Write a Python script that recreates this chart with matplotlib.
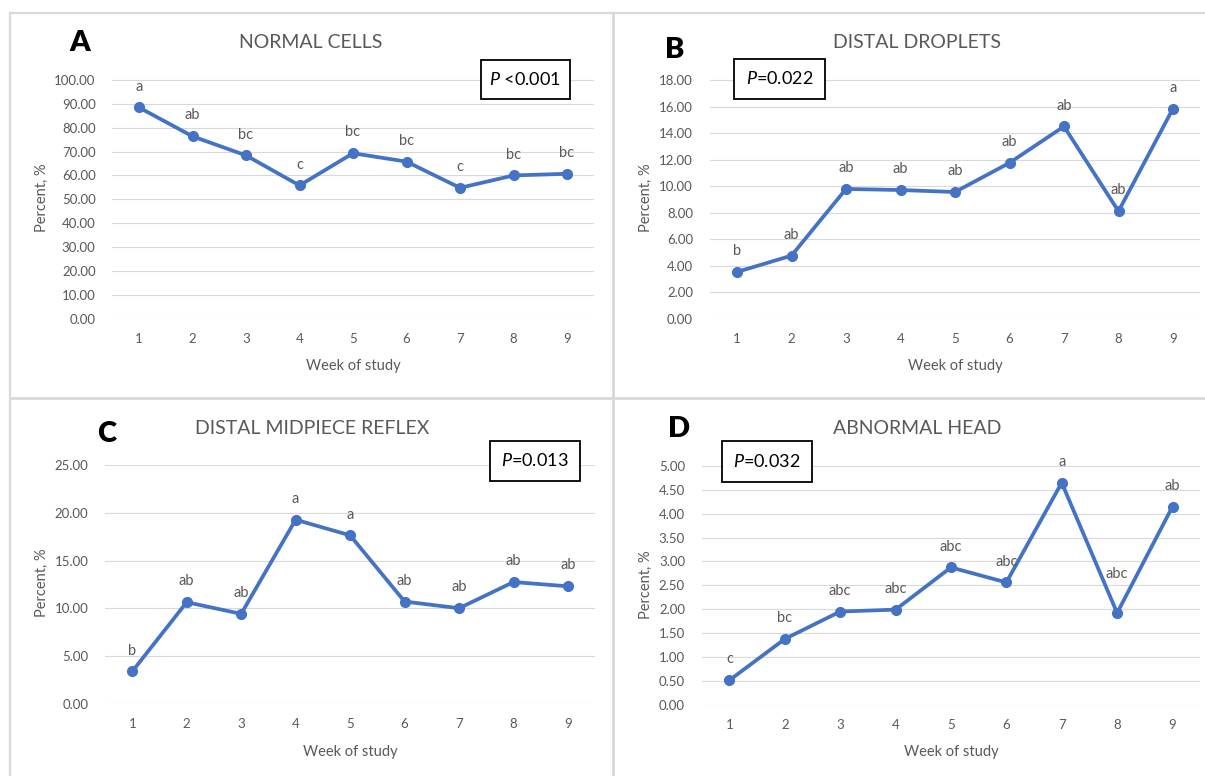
import matplotlib
matplotlib.use("Agg")
import matplotlib.pyplot as plt
from matplotlib.lines import Line2D
from matplotlib.patches import Rectangle

plt.rcParams['font.family'] = ['Lato', 'DejaVu Sans']
plt.rcParams['mathtext.fontset'] = 'custom'
plt.rcParams['mathtext.rm'] = 'Lato'
plt.rcParams['mathtext.it'] = 'Lato:italic'

# data
weeks = [1, 2, 3, 4, 5, 6, 7, 8, 9]
normal_cells = [88.5, 76.4, 68.4, 55.8, 69.3, 65.8, 54.8, 60.0, 60.7]
distal_droplets = [3.52, 4.75, 9.78, 9.70, 9.55, 11.75, 14.5, 8.10, 15.85]
distal_midpiece = [3.37, 10.64, 9.42, 19.30, 17.66, 10.71, 10.01, 12.76, 12.31]
abnormal_head = [0.51, 1.375, 1.95, 1.99, 2.875, 2.56, 4.65, 1.92, 4.15]

letters_a = ['a', 'ab', 'bc', 'c', 'bc', 'bc', 'c', 'bc', 'bc']
letters_b = ['b', 'ab', 'ab', 'ab', 'ab', 'ab', 'ab', 'ab', 'a']
letters_c = ['b', 'ab', 'ab', 'a', 'a', 'ab', 'ab', 'ab', 'ab']
letters_d = ['c', 'bc', 'abc', 'abc', 'abc', 'abc', 'a', 'abc', 'ab']

titles = ['NORMAL CELLS', 'DISTAL DROPLETS', 'DISTAL MIDPIECE REFLEX', 'ABNORMAL HEAD']
panel_ids = ['A', 'B', 'C', 'D']
p_texts = [r'$\it{P}$ <0.001', r'$\it{P}$=0.022', r'$\it{P}$=0.013', r'$\it{P}$=0.032']

W, H = 1205, 776
fig = plt.figure(figsize=(W / 100, H / 100), dpi=100)
fig.patch.set_facecolor('white')

def fx(px):
    return px / W

def fy(py):
    return 1 - py / H

# layout in pixels: plot area (x0, x1, y_top, y_bottom), letter pos, title pos, ylabel x, xlabel y, P box
panels = [
    dict(area=(112.25, 593.75, 79.3, 319.3), ymax=100, step=10, letter=(80, 43), title=(311, 43),
         ylab=(42, 198), xlab=366, box=(480.5, 60, 570, 99.3)),
    dict(area=(709.75, 1200.25, 79.3, 319.3), ymax=18, step=2, letter=(675, 50), title=(917, 43),
         ylab=(646, 198), xlab=366, box=(734, 59, 825, 98.7)),
    dict(area=(105, 595.25, 464.7, 704.3), ymax=25, step=5, letter=(107, 434), title=(312, 428),
         ylab=(42, 583), xlab=752, box=(489.5, 440.7, 580, 481)),
    dict(area=(701.7, 1200.2, 465.3, 705.3), ymax=5, step=0.5, letter=(679, 429), title=(917, 429),
         ylab=(646, 585), xlab=752, box=(721.7, 441.3, 811.7, 482.3)),
]
series = [normal_cells, distal_droplets, distal_midpiece, abnormal_head]
letters = [letters_a, letters_b, letters_c, letters_d]
# extra lift for labels that were moved by hand in the original (panel, index, points)
nudges = {(3, 7): 13}

grey_text = '#595959'
blue = '#4472C4'

for k, p in enumerate(panels):
    x0, x1, yt, yb = p['area']
    ax = fig.add_axes([fx(x0), fy(yb), (x1 - x0) / W, (yb - yt) / H])
    ax.set_xlim(0.5, 9.5)
    ax.set_ylim(-p['ymax'] * 0.003, p['ymax'] * 1.003)
    n = int(round(p['ymax'] / p['step']))
    yt_vals = [i * p['step'] for i in range(n + 1)]
    ax.set_yticks(yt_vals)
    ax.set_yticklabels(['%.2f' % v for v in yt_vals])
    ax.set_xticks(weeks)
    ax.set_xticklabels([str(w) for w in weeks])
    for v in yt_vals:
        ax.axhline(v, color='#D9D9D9', lw=0.8, zorder=0)
    for s in ax.spines.values():
        s.set_visible(False)
    ax.tick_params(length=0, labelsize=9.5, colors=grey_text, pad=10)
    ax.tick_params(axis='y', pad=12)
    ax.set_facecolor('none')

    vals = series[k]
    ax.plot(weeks, vals, color=blue, lw=2.7, marker='o', markersize=7, zorder=3)
    for i, (w, v) in enumerate(zip(weeks, vals)):
        lift = 15 + nudges.get((k, i), 0)
        ax.annotate(letters[k][i], (w, v), xytext=(0, lift), textcoords='offset points',
                    ha='center', va='center', fontsize=10.5, color=grey_text)

    fig.text(fx(p['letter'][0]), fy(p['letter'][1]), panel_ids[k], fontsize=21, fontweight='heavy',
             ha='center', va='center', color='black')
    fig.text(fx(p['title'][0]), fy(p['title'][1]), titles[k], fontsize=14, ha='center',
             va='center', color=grey_text)
    fig.text(fx(p['ylab'][0]), fy(p['ylab'][1]), 'Percent, %', fontsize=10.5, rotation=90,
             ha='center', va='center', color=grey_text)
    fig.text(fx((x0 + x1) / 2), fy(p['xlab']), 'Week of study', fontsize=10.5, ha='center',
             va='center', color=grey_text)

    bx0, by0, bx1, by1 = p['box']
    fig.add_artist(Rectangle((fx(bx0), fy(by1)), (bx1 - bx0) / W, (by1 - by0) / H,
                             transform=fig.transFigure, fill=True, facecolor='white',
                             edgecolor='black', lw=1.3, zorder=5))
    fig.text(fx((bx0 + bx1) / 2), fy((by0 + by1) / 2), p_texts[k], fontsize=13, ha='center',
             va='center', color='black', zorder=6)

# chart frames
frame = '#D9D9D9'
fig.add_artist(Line2D([fx(10), 1], [fy(13), fy(13)], color=frame, lw=1.6))
fig.add_artist(Line2D([fx(10), fx(10)], [fy(13), 0], color=frame, lw=1.6))
fig.add_artist(Line2D([fx(613), fx(613)], [fy(13), 0], color=frame, lw=2))
fig.add_artist(Line2D([fx(10), 1], [fy(398), fy(398)], color=frame, lw=2))

fig.savefig('out.png', dpi=100, facecolor='white')
